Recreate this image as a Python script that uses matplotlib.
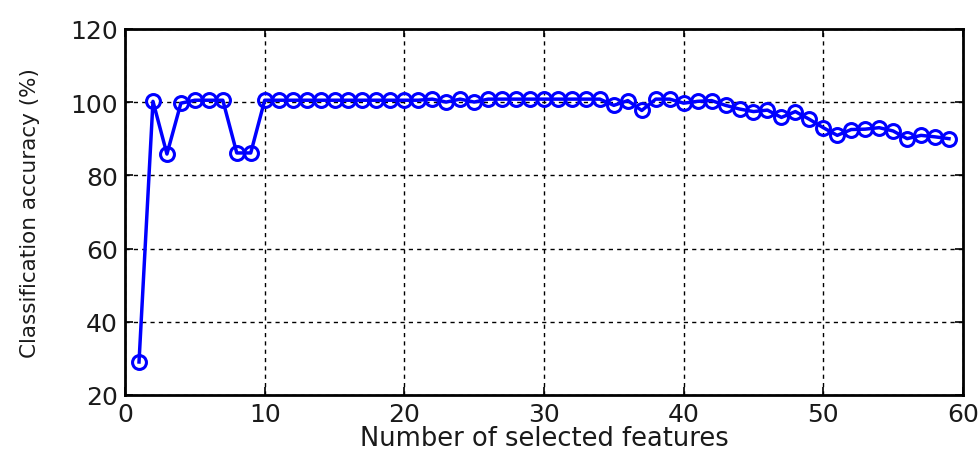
import matplotlib
matplotlib.use('Agg')
import matplotlib.pyplot as plt

# number of selected features
n_features = list(range(1, 60))

# classification accuracy (%)
accuracy = [
    29.0, 100.2, 85.8, 99.7, 100.5, 100.5, 100.5, 86.1, 86.1, 100.5,
    100.5, 100.5, 100.5, 100.5, 100.5, 100.5, 100.5, 100.5, 100.5, 100.5,
    100.5, 100.8, 100.0, 100.8, 100.0, 100.8, 100.8, 100.8, 100.8, 100.8,
    100.8, 100.8, 100.8, 100.8, 99.1, 100.4, 97.7, 100.8, 100.8, 99.7,
    100.2, 100.4, 99.1, 98.1, 97.4, 97.8, 95.8, 97.4, 95.3, 93.0,
    90.9, 92.5, 92.6, 93.0, 92.1, 90.0, 90.9, 90.5, 90.0,
]

xticks = [0, 10, 20, 30, 40, 50, 60]
yticks = [20, 40, 60, 80, 100, 120]

plt.rcParams['font.family'] = ['DejaVu Sans']
plt.rcParams['font.size'] = 16
txt_color = '#1a1a1a'

fig = plt.figure(figsize=(9.8, 4.52), dpi=100)
ax = fig.add_axes([0.1276, 0.124, 0.855, 0.810])

ax.plot(n_features, accuracy, color='#0000ff', linewidth=2.5,
        marker='o', markersize=10, markerfacecolor='none',
        markeredgewidth=2.2, markeredgecolor='#0000ff')

ax.set_xlim(0, 60)
ax.set_ylim(20, 120)
ax.set_xticks(xticks)
ax.set_yticks(yticks)
ax.grid(True, color='black', linestyle=(0, (3, 3)), linewidth=1)
ax.tick_params(direction='in', top=True, right=True, length=6, width=1.2,
               labelsize=18, pad=5, labelcolor=txt_color)
for s in ax.spines.values():
    s.set_linewidth(2)

ax.set_xlabel('Number of selected features', fontsize=18.5, labelpad=-1,
              color=txt_color)
ax.set_ylabel('Classification accuracy (%)', fontsize=15.5, labelpad=22,
              color=txt_color)

plt.savefig('out.png', dpi=100)
